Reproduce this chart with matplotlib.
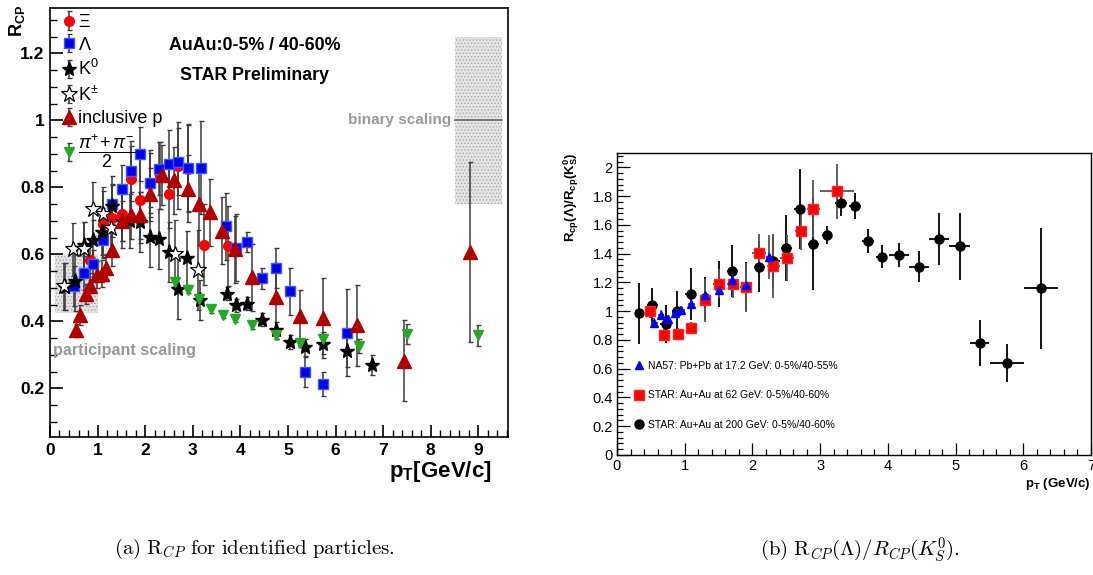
import numpy as np
import matplotlib.pyplot as plt
from matplotlib.lines import Line2D
from matplotlib.patches import Rectangle
from matplotlib.ticker import MultipleLocator

plt.rcParams['font.family'] = ['Liberation Sans', 'DejaVu Sans']
plt.rcParams['mathtext.fontset'] = 'custom'
plt.rcParams['mathtext.rm'] = 'Liberation Sans'
plt.rcParams['mathtext.it'] = 'Liberation Sans:italic'
plt.rcParams['mathtext.bf'] = 'Liberation Sans:bold'
plt.rcParams['hatch.linewidth'] = 0.6

# ---- (a) R_CP for identified particles, AuAu 0-5% / 40-60%
xi_pt   = [0.85, 1.11, 1.31, 1.51, 1.71, 1.90, 2.11, 2.31, 2.51, 2.70, 2.91, 3.24, 3.75]
xi_rcp  = [0.584, 0.690, 0.708, 0.721, 0.824, 0.763, 0.811, 0.836, 0.779, 0.864, 0.856, 0.629, 0.625]
xi_err  = [0.06, 0.10, 0.10, 0.08, 0.10, 0.13, 0.10, 0.10, 0.10, 0.13, 0.13, 0.12, 0.12]

lam_pt  = [0.50, 0.71, 0.91, 1.11, 1.31, 1.51, 1.71, 1.90, 2.11, 2.30, 2.50, 2.70, 2.91, 3.17,
           3.70, 3.91, 4.13, 4.45, 4.75, 5.04, 5.35, 5.74, 6.25]
lam_rcp = [0.505, 0.544, 0.572, 0.642, 0.751, 0.796, 0.849, 0.900, 0.813, 0.856, 0.871, 0.876,
           0.859, 0.859, 0.684, 0.620, 0.636, 0.528, 0.560, 0.490, 0.250, 0.213, 0.366]
lam_err = [0.06, 0.05, 0.04, 0.05, 0.06, 0.07, 0.09, 0.08, 0.09, 0.08, 0.10, 0.10, 0.13, 0.14,
           0.10, 0.10, 0.03, 0.03, 0.06, 0.07, 0.045, 0.037, 0.13]

k0_pt   = [0.32, 0.52, 0.72, 0.91, 1.09, 1.30, 1.51, 1.68, 1.89, 2.10, 2.30, 2.51, 2.70, 2.88,
           3.15, 3.71, 3.91, 4.14, 4.45, 4.75, 5.04, 5.35, 5.74, 6.25, 6.76]
k0_rcp  = [0.504, 0.522, 0.627, 0.642, 0.667, 0.743, 0.700, 0.700, 0.697, 0.652, 0.645, 0.607,
           0.498, 0.589, 0.463, 0.483, 0.448, 0.453, 0.405, 0.373, 0.338, 0.323, 0.333, 0.313, 0.269]
k0_err  = [0.07, 0.09, 0.07, 0.06, 0.07, 0.09, 0.08, 0.08, 0.09, 0.09, 0.09, 0.09, 0.09, 0.08,
           0.06, 0.02, 0.02, 0.02, 0.02, 0.025, 0.02, 0.025, 0.03, 0.05, 0.03]

kpm_pt  = [0.30, 0.49, 0.72, 0.91, 1.12, 1.28, 2.63, 3.12]
kpm_rcp = [0.505, 0.615, 0.617, 0.736, 0.721, 0.680, 0.602, 0.554]
kpm_err = [0.07, 0.08, 0.08, 0.08, 0.08, 0.08, 0.10, 0.12]

p_pt    = [0.55, 0.64, 0.76, 0.85, 0.98, 1.09, 1.18, 1.31, 1.51, 1.71, 1.90, 2.11, 2.35, 2.61,
           2.89, 3.13, 3.37, 3.61, 3.89, 4.25, 4.75, 5.25, 5.74, 6.44, 7.44, 8.82]
p_rcp   = [0.373, 0.420, 0.483, 0.505, 0.539, 0.542, 0.560, 0.614, 0.699, 0.716, 0.716, 0.779,
           0.836, 0.821, 0.796, 0.749, 0.725, 0.670, 0.615, 0.532, 0.474, 0.415, 0.410, 0.388,
           0.283, 0.607]
p_err   = [0.02, 0.03, 0.03, 0.04, 0.04, 0.04, 0.04, 0.05, 0.06, 0.07, 0.07, 0.08, 0.09, 0.10,
           0.10, 0.12, 0.10, 0.10, 0.10, 0.10, 0.10, 0.08, 0.12, 0.12, 0.12, 0.27]

pi_pt   = [2.62, 2.89, 3.14, 3.38, 3.63, 3.89, 4.25, 4.75, 5.25, 5.74, 6.50, 7.49, 9.00]
pi_rcp  = [0.517, 0.495, 0.468, 0.436, 0.420, 0.408, 0.388, 0.358, 0.335, 0.348, 0.326, 0.363, 0.358]
pi_err  = [0.01, 0.01, 0.01, 0.01, 0.01, 0.01, 0.01, 0.01, 0.01, 0.02, 0.02, 0.03, 0.03]

# ---- (b) R_cp(Lambda)/R_cp(K0s)
na57_pt  = [0.55, 0.65, 0.75, 0.86, 0.95, 1.10, 1.30, 1.50, 1.70, 1.91, 2.25]
na57_r   = [0.920, 0.977, 0.945, 0.984, 1.007, 1.053, 1.116, 1.150, 1.215, 1.180, 1.377]
na57_err = [0.03, 0.03, 0.03, 0.03, 0.03, 0.04, 0.05, 0.06, 0.06, 0.08, 0.15]

s62_pt   = [0.49, 0.70, 0.90, 1.10, 1.30, 1.50, 1.71, 1.90, 2.10, 2.31, 2.51, 2.71, 2.90, 3.25]
s62_r    = [1.000, 0.833, 0.840, 0.884, 1.076, 1.190, 1.190, 1.165, 1.405, 1.315, 1.370, 1.556,
            1.713, 1.833]
s62_err  = [0.05, 0.04, 0.04, 0.04, 0.15, 0.10, 0.10, 0.17, 0.13, 0.22, 0.16, 0.13, 0.20, 0.19]
s62_xerr = [0.08, 0.08, 0.08, 0.08, 0.08, 0.08, 0.08, 0.08, 0.10, 0.10, 0.10, 0.08, 0.10, 0.25]

s200_pt   = [0.33, 0.52, 0.72, 0.89, 1.09, 1.30, 1.50, 1.70, 1.91, 2.10, 2.30, 2.50, 2.70, 2.90,
             3.10, 3.31, 3.51, 3.71, 3.91, 4.16, 4.46, 4.76, 5.06, 5.36, 5.76, 6.26]
s200_r    = [0.984, 1.040, 0.910, 1.000, 1.120, 1.090, 1.190, 1.280, 1.170, 1.310, 1.350, 1.440,
             1.710, 1.470, 1.530, 1.755, 1.730, 1.490, 1.380, 1.390, 1.310, 1.500, 1.450, 0.780,
             0.640, 1.160]
s200_err  = [0.21, 0.12, 0.13, 0.14, 0.18, 0.15, 0.16, 0.18, 0.17, 0.18, 0.18, 0.23, 0.28, 0.32,
             0.06, 0.09, 0.09, 0.085, 0.08, 0.085, 0.11, 0.18, 0.23, 0.16, 0.13, 0.42]
s200_xerr = [0.05, 0.08, 0.08, 0.08, 0.08, 0.08, 0.08, 0.08, 0.08, 0.08, 0.10, 0.08, 0.08, 0.08,
             0.08, 0.09, 0.09, 0.09, 0.08, 0.15, 0.15, 0.15, 0.15, 0.14, 0.25, 0.25]

fig = plt.figure(figsize=(10.93, 5.75), dpi=100)

# ================= left panel =================
ax = fig.add_axes([0.0457, 0.240, 0.419, 0.746])
ebar = dict(ls='none', ecolor='#3a3a3a', elinewidth=1.1, capsize=1.8, capthick=1.0)

# scaling bands
ax.add_patch(Rectangle((0.1, 0.425), 0.9, 0.175, facecolor='#e4e4e4', edgecolor='#a8a8a8',
                       lw=0, hatch='.....', zorder=0))
ax.add_patch(Rectangle((8.5, 0.75), 1.0, 0.5, facecolor='#e4e4e4', edgecolor='#a8a8a8',
                       lw=0, hatch='.....', zorder=0))
ax.plot([8.5, 9.5], [1.0, 1.0], color='#666666', lw=1.2, zorder=1)

h_xi = ax.errorbar(xi_pt, xi_rcp, yerr=xi_err, marker='o', ms=7, mfc='#ff0000', mec='#ff0000', **ebar)
h_lam = ax.errorbar(lam_pt, lam_rcp, yerr=lam_err, marker='s', ms=7, mfc='#0000ee', mec='#3a5aff', **ebar)
h_k0 = ax.errorbar(k0_pt, k0_rcp, yerr=k0_err, marker='*', ms=11, mfc='black', mec='black', **ebar)
h_kpm = ax.errorbar(kpm_pt, kpm_rcp, yerr=kpm_err, marker='*', ms=12, mfc='white', mec='black',
                    mew=0.9, **ebar)
h_p = ax.errorbar(p_pt, p_rcp, yerr=p_err, marker='^', ms=9.5, mfc='#b00000', mec='#b00000', **ebar)
h_pi = ax.errorbar(pi_pt, pi_rcp, yerr=pi_err, marker='v', ms=7, mfc='#22aa22', mec='#22aa22', **ebar)

ax.set_xlim(0, 9.62)
ax.set_ylim(0.055, 1.335)
ax.xaxis.set_minor_locator(MultipleLocator(0.2))
ax.yaxis.set_minor_locator(MultipleLocator(0.05))
ax.tick_params(which='both', direction='in', top=False, right=False)
ax.tick_params(which='major', length=9, width=1.2, labelsize=12.5, pad=4)
ax.tick_params(which='minor', length=5, width=1.0)
ax.set_yticks([0.2, 0.4, 0.6, 0.8, 1.0, 1.2])
ax.set_yticklabels(['0.2', '0.4', '0.6', '0.8', '1', '1.2'], fontweight='bold')
ax.set_xticks(range(0, 10))
ax.set_xticklabels([str(i) for i in range(0, 10)], fontweight='bold')
for s in ax.spines.values():
    s.set_linewidth(1.2)

ax.set_xlabel(r'$\mathbf{p_T}$[GeV/c]', fontsize=16, fontweight='bold')
ax.xaxis.set_label_coords(0.965, -0.052)
ax.xaxis.label.set_ha('right')
ax.set_ylabel(r'$\mathbf{R_{CP}}$', fontsize=13, fontweight='bold')
ax.yaxis.set_label_coords(-0.072, 0.97)
ax.yaxis.label.set_va('center')

ax.text(4.3, 1.224, 'AuAu:0-5% / 40-60%', ha='center', va='center', fontsize=12.8,
        fontweight='bold')
ax.text(4.3, 1.134, 'STAR Preliminary', ha='center', va='center', fontsize=12.8,
        fontweight='bold')
ax.text(0.07, 0.313, 'participant scaling', ha='left', va='center', fontsize=11.6,
        fontweight='bold', color='#999999')
ax.text(8.43, 1.0, 'binary scaling', ha='right', va='center', fontsize=11,
        fontweight='bold', color='#999999')

ax.legend([h_xi, h_lam, h_k0, h_kpm, h_p, h_pi],
          [r'$\Xi$', r'$\Lambda$', r'K$^0$', r'K$^{\pm}$', 'inclusive p',
           r'$\dfrac{\pi^{+}\!+\pi^{-}}{2}$'],
          loc='upper left', bbox_to_anchor=(0.0, 1.016), frameon=False, fontsize=13,
          handlelength=0.7, handletextpad=0.15, labelspacing=0.32, borderaxespad=0.3)

# ================= right panel =================
bx = fig.add_axes([0.5645, 0.2087, 0.4337, 0.5252])
rbar = dict(ls='none', elinewidth=1.3, capsize=0)
bx.errorbar(s200_pt, s200_r, yerr=s200_err, xerr=s200_xerr, marker='o', ms=6.5,
            mfc='black', mec='black', ecolor='black', **rbar)
bx.errorbar(s62_pt, s62_r, yerr=s62_err, xerr=s62_xerr, marker='s', ms=6.5,
            mfc='#ff0000', mec='#ff2222', ecolor='#555555', **rbar)
bx.errorbar(na57_pt, na57_r, yerr=na57_err, xerr=0.05, marker='^', ms=6,
            mfc='#0000ff', mec='#0000ff', ecolor='#555555', **rbar)

bx.set_xlim(0, 7)
bx.set_ylim(0, 2.1)
bx.xaxis.set_major_locator(MultipleLocator(1))
bx.xaxis.set_minor_locator(MultipleLocator(0.2))
bx.yaxis.set_minor_locator(MultipleLocator(0.04))
bx.tick_params(which='both', direction='in', top=False, right=False)
bx.tick_params(which='major', length=9, width=0.9, labelsize=10.5, pad=3)
bx.tick_params(which='minor', length=4.5, width=0.9)
bx.set_yticks(np.arange(0, 2.01, 0.2))
bx.set_yticklabels(['0', '0.2', '0.4', '0.6', '0.8', '1', '1.2', '1.4', '1.6', '1.8', '2'])
for s in bx.spines.values():
    s.set_linewidth(1.0)

bx.set_xlabel(r'$\mathbf{p_T}$ (GeV/c)', fontsize=9.5, fontweight='bold')
bx.xaxis.set_label_coords(1.0, -0.068)
bx.xaxis.label.set_ha('right')
bx.set_ylabel(r'$\mathbf{R_{cp}(\Lambda)/R_{cp}(K^0_S)}$', fontsize=9.5, fontweight='bold')
bx.yaxis.set_label_coords(-0.097, 1.0)
bx.yaxis.label.set_ha('right')
bx.yaxis.label.set_va('center')

handles = [Line2D([], [], ls='none', marker='^', ms=6, mfc='#0000ff', mec='#0000ff'),
           Line2D([], [], ls='none', marker='s', ms=6.5, mfc='#ff0000', mec='#ff2222'),
           Line2D([], [], ls='none', marker='o', ms=6.5, mfc='black', mec='black')]
bx.legend(handles, ['NA57: Pb+Pb at 17.2 GeV: 0-5%/40-55%',
                    'STAR: Au+Au at 62 GeV: 0-5%/40-60%',
                    'STAR: Au+Au at 200 GeV: 0-5%/40-60%'],
          loc='lower left', bbox_to_anchor=(0.02, 0.06), frameon=False, fontsize=7.5,
          handlelength=1.0, handletextpad=0.35, labelspacing=1.85, borderaxespad=0.3)

# ================= captions =================
fig.text(0.233, 0.045, r'$\mathrm{(a)\ R}_{CP}\ \mathrm{for\ identified\ particles.}$',
         ha='center', va='center', fontsize=15, math_fontfamily='cm')
fig.text(0.787, 0.045, r'$\mathrm{(b)\ R}_{CP}(\Lambda)/R_{CP}(K_S^0).$',
         ha='center', va='center', fontsize=15, math_fontfamily='cm')

fig.savefig('out.png', dpi=100)
